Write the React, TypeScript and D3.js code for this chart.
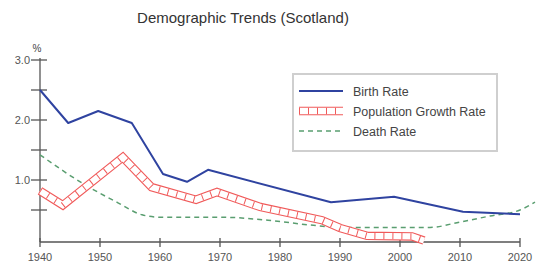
import { useEffect, useRef } from "react";
import * as d3 from "d3";

// values (%)
const birthYears = [1940, 1944.7, 1949.7, 1955.3, 1960.5, 1964.5, 1968, 1988.5, 1999, 2010.5, 2020];
const birthRate = [2.5, 1.95, 2.15, 1.95, 1.1, 0.97, 1.17, 0.63, 0.72, 0.47, 0.43];

const growthYears = [1940, 1943.8, 1953.8, 1958.6, 1966, 1969.5, 1976.7, 1987, 1990, 1994.5, 2002, 2004];
const growthRate = [0.82, 0.58, 1.38, 0.88, 0.67, 0.8, 0.55, 0.33, 0.2, 0.07, 0.06, -0.01];

const deathYears = [1940, 1947, 1953, 1957, 1960, 1970, 1978, 1985, 1990, 2000, 2005, 2010, 2015, 2020, 2022.5];
const deathRate = [1.42, 0.95, 0.62, 0.42, 0.38, 0.38, 0.33, 0.25, 0.21, 0.21, 0.21, 0.3, 0.4, 0.5, 0.63];

const xTicks = [1940, 1950, 1960, 1970, 1980, 1990, 2000, 2010, 2020];
const yTicks = [0.5, 1.0, 1.5, 2.0, 2.5, 3.0];
const yLabels = ["1.0", "2.0", "3.0"];

const legendNames = ["Birth Rate", "Population Growth Rate", "Death Rate"];

const width = 538;
const height = 264;
const font = "'Liberation Sans', Arial, sans-serif";
const blue = "#2f43a0";
const red = "#f05a5a";
const green = "#5a9e70";
const axisColor = "#555";

export default function App() {
    const svgRef = useRef<SVGSVGElement | null>(null);

    useEffect(() => {
        const svg = d3.select(svgRef.current);
        svg.selectAll("*").remove();

        const xScale = d3.scaleLinear().domain([1940, 2020]).range([40, 520]);
        const yScale = d3.scaleLinear().domain([0, 3]).range([240, 60]);

        svg.append("rect").attr("width", width).attr("height", height).attr("fill", "white");

        // title
        svg.append("text")
            .attr("x", 243).attr("y", 23)
            .attr("text-anchor", "middle")
            .style("font-family", font).style("font-size", "15px")
            .attr("fill", "#333")
            .text("Demographic Trends (Scotland)");

        // y axis
        svg.append("line")
            .attr("x1", 40).attr("x2", 40).attr("y1", 58).attr("y2", 242)
            .attr("stroke", axisColor).attr("stroke-width", 1.3);
        yTicks.forEach(v => {
            svg.append("line")
                .attr("x1", 31).attr("x2", 47)
                .attr("y1", yScale(v)).attr("y2", yScale(v))
                .attr("stroke", axisColor).attr("stroke-width", 1.3);
        });
        yLabels.forEach(l => {
            svg.append("text")
                .attr("x", 30).attr("y", yScale(+l) + 4)
                .attr("text-anchor", "end")
                .style("font-family", font).style("font-size", "11px")
                .attr("fill", "#555")
                .text(l);
        });
        svg.append("text")
            .attr("x", 37).attr("y", 52)
            .attr("text-anchor", "middle")
            .style("font-family", font).style("font-size", "10px")
            .attr("fill", "#444")
            .text("%");

        // x axis
        svg.append("line")
            .attr("x1", 40).attr("x2", 520).attr("y1", 242).attr("y2", 242)
            .attr("stroke", axisColor).attr("stroke-width", 1.3);
        xTicks.forEach(t => {
            svg.append("line")
                .attr("x1", xScale(t)).attr("x2", xScale(t))
                .attr("y1", 238).attr("y2", 247)
                .attr("stroke", axisColor).attr("stroke-width", 1.3);
            svg.append("text")
                .attr("x", xScale(t)).attr("y", 261)
                .attr("text-anchor", "middle")
                .style("font-family", font).style("font-size", "11px")
                .attr("fill", "#555")
                .text(String(t));
        });

        const line = d3.line<[number, number]>()
            .x(d => xScale(d[0]))
            .y(d => yScale(d[1]));

        const deathPts = deathYears.map((y, i) => [y, deathRate[i]] as [number, number]);
        const growthPts = growthYears.map((y, i) => [y, growthRate[i]] as [number, number]);
        const birthPts = birthYears.map((y, i) => [y, birthRate[i]] as [number, number]);

        // death rate
        svg.append("path")
            .attr("d", line.curve(d3.curveMonotoneX)(deathPts))
            .attr("fill", "none").attr("stroke", green)
            .attr("stroke-width", 1.5).attr("stroke-dasharray", "5 4");

        // population growth band: two thin red edges with cross ticks
        const drawBand = (d: string) => {
            svg.append("path").attr("d", d).attr("fill", "none")
                .attr("stroke", red).attr("stroke-width", 8.5).attr("stroke-linejoin", "miter");
            svg.append("path").attr("d", d).attr("fill", "none")
                .attr("stroke", "white").attr("stroke-width", 6.3).attr("stroke-linejoin", "miter");
            svg.append("path").attr("d", d).attr("fill", "none")
                .attr("stroke", red).attr("stroke-width", 6.3).attr("stroke-dasharray", "1 8");
        };
        drawBand(line.curve(d3.curveLinear)(growthPts) || "");

        // birth rate
        svg.append("path")
            .attr("d", line.curve(d3.curveLinear)(birthPts))
            .attr("fill", "none").attr("stroke", blue)
            .attr("stroke-width", 2).attr("stroke-linejoin", "round");

        // legend
        svg.append("rect")
            .attr("x", 293).attr("y", 74).attr("width", 204).attr("height", 77)
            .attr("fill", "white").attr("stroke", "#cfcfcf").attr("stroke-width", 2);
        const ly = [91, 111, 131];
        legendNames.forEach((n, i) => {
            const y = ly[i];
            if (i === 0) {
                svg.append("line").attr("x1", 299).attr("x2", 343).attr("y1", y).attr("y2", y)
                    .attr("stroke", blue).attr("stroke-width", 2);
            } else if (i === 1) {
                drawBand(`M299,${y}L343,${y}`);
            } else {
                svg.append("line").attr("x1", 299).attr("x2", 343).attr("y1", y).attr("y2", y)
                    .attr("stroke", green).attr("stroke-width", 1.5).attr("stroke-dasharray", "5 4");
            }
            svg.append("text")
                .attr("x", 353).attr("y", y + 4.5)
                .style("font-family", font).style("font-size", "12.5px")
                .attr("fill", "#444")
                .text(n);
        });
    }, []);

    return (
        <svg ref={svgRef} width={width} height={height}
            style={{ position: "absolute", left: 0, top: 0 }} />
    );
}
